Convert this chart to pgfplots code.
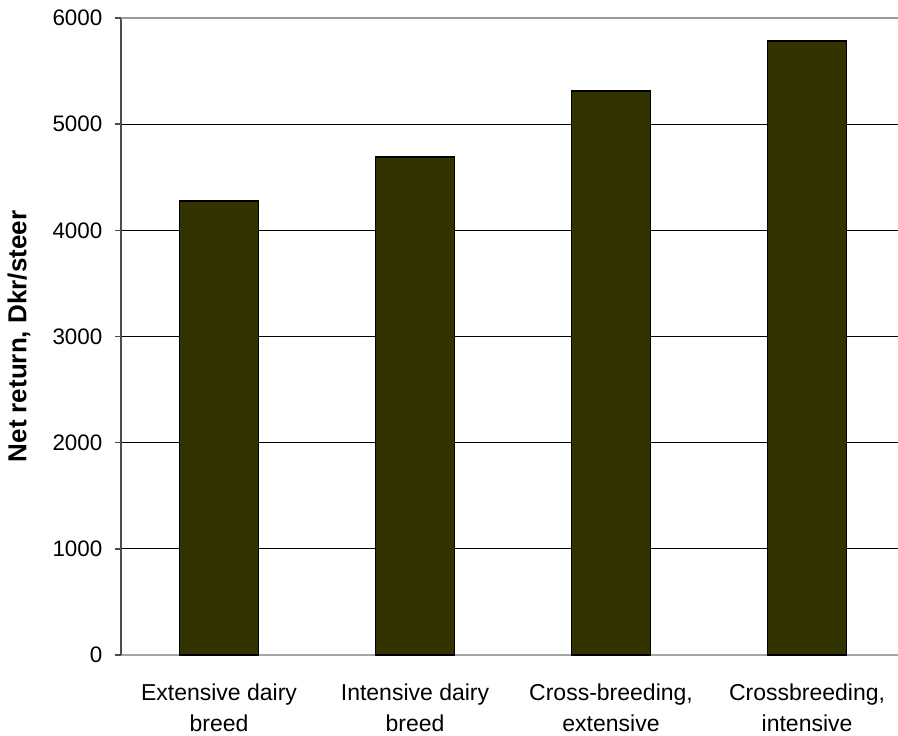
\documentclass[border=0pt]{standalone}
\usepackage{pgfplots}
\pgfplotsset{compat=1.18}
\usepackage{fontspec}
\setmainfont{Liberation Sans}
\definecolor{barc}{HTML}{333300}
\begin{document}
\begin{tikzpicture}
\begin{axis}[
  scale only axis, width=388.5pt, height=318.5pt,
  xmin=-0.5, xmax=3.464, ymin=0, ymax=6000,
  axis x line=bottom, axis y line=left,
  x axis line style={-, draw=black!35, line width=0.75pt},
  y axis line style={-, draw=black!70, line width=0.75pt},
  ytick={0,1000,...,6000},
  ymajorgrids, major grid style={black, line width=0.5pt},
  tick align=outside, major tick length=3pt,
  ytick style={draw=black!70, line width=0.75pt},
  xtick={0,1,2,3},
  xtick style={draw=none},
  xticklabels={Extensive dairy\\breed, Intensive dairy\\breed, {Cross-breeding,\\extensive}, {Crossbreeding,\\intensive}},
  xticklabel style={align=center, font=\fontsize{11.5}{15.5}\selectfont, yshift=-8pt},
  yticklabel style={font=\fontsize{11.2}{13}\selectfont, xshift=-2.8pt},
  yticklabel={\fontsize{11.2}{13}\selectfont\pgfmathprintnumber[assume math mode=true,1000 sep={}]{\tick}},
  ylabel={Net return, Dkr/steer},
  ylabel style={font=\fontsize{13}{15}\selectfont\bfseries, at={(axis description cs:-0.1313,0.5)}, anchor=center},
  clip=false,
]
\addplot[ybar, bar width=39.5pt, fill=barc, draw=black, line width=0.9pt] coordinates {(0,4280) (1,4690) (2,5310) (3,5780)};
\draw[black!40, line width=1pt] (rel axis cs:0,1) -- (rel axis cs:1,1);
\coordinate (sw) at (rel axis cs:0,0);
\end{axis}
\pgfresetboundingbox
\path (sw) ++(-60.5pt,-40pt) rectangle ++(449pt,367.5pt);
\end{tikzpicture}
\end{document}
